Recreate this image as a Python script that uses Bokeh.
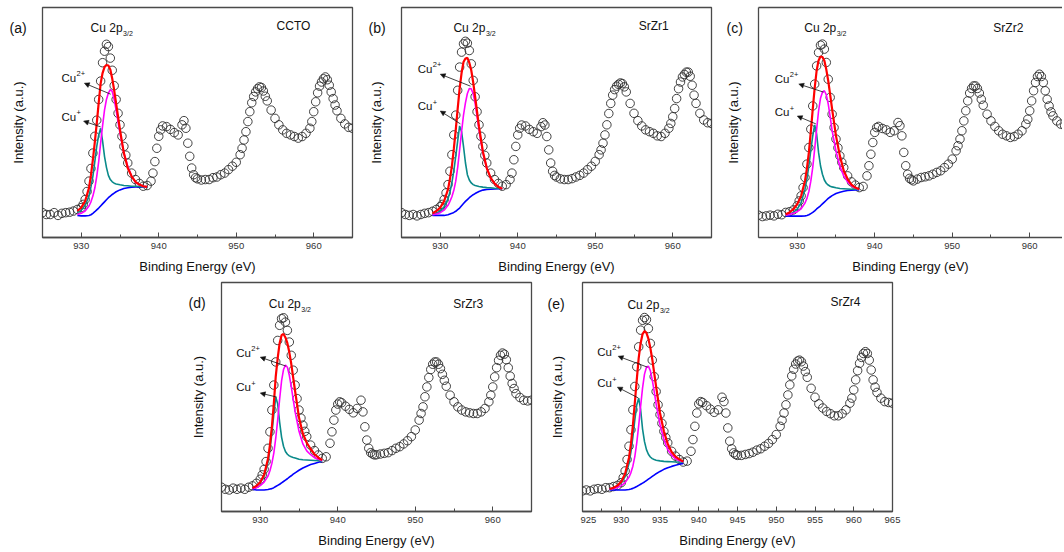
import math
from bokeh.plotting import figure
from bokeh.layouts import column, row
from bokeh.models import (Label, Arrow, NormalHead, SingleIntervalTicker, FixedTicker,
                          Range1d, Spacer, LinearAxis)
from bokeh.embed import file_html
from bokeh.resources import INLINE

FONT = "Liberation Sans"
AXIS = "#4a4a4a"
TXT = "#111111"

# ---------------- data: measured spectra (intensity, % of panel height) ----------------
energy = [
    925, 925.5, 926, 926.5, 927, 927.5, 928, 928.5, 929, 929.5, 930,
    930.25, 930.5, 930.75, 931, 931.25, 931.5, 931.75, 932, 932.25, 932.5,
    932.75, 933, 933.25, 933.5, 933.75, 934, 934.25, 934.5, 934.75, 935,
    935.25, 935.5, 935.75, 936, 936.5, 937, 937.5, 938, 938.5, 939,
    939.25, 939.5, 939.75, 940, 940.25, 940.5,
    941, 941.5, 942, 942.5, 943,
    943.25, 943.5, 943.75, 944, 944.25, 944.5, 944.75, 945,
    945.5, 946, 946.5, 947, 947.5, 948, 948.5, 949, 949.5, 950, 950.5,
    950.75, 951, 951.25, 951.5, 951.75, 952, 952.25, 952.5, 952.75, 953, 953.25, 953.5, 953.75, 954,
    954.5, 955, 955.5, 956, 956.5, 957, 957.5, 958, 958.5, 959, 959.5,
    959.75, 960, 960.25, 960.5, 960.75, 961, 961.25, 961.5, 961.75, 962, 962.25, 962.5, 962.75, 963,
    963.5, 964, 964.5, 965,
]

ccto_counts = [
    10.8, 10, 10, 10.8, 9.6, 10.5, 10.8, 11, 11.5, 12.2, 13,
    14.4, 16.5, 20, 24.5, 30, 36.7, 44, 51, 60, 68, 76, 81, 84, 83, 78, 72.7, 66, 60, 54, 49,
    44, 39.6, 35.8, 32.4, 28, 25.2, 23.5, 22.3, 22.6, 24.5,
    28, 33, 38.8, 44, 46.8, 48.5,
    48.2, 47, 45.6, 44.6, 49,
    50.8, 47.5, 41, 35.3, 30.2, 27.3, 26, 25.5,
    25, 25.2, 25.2, 26, 26.3, 27.3, 28, 29.5, 31, 32.7, 36,
    38.8, 42.4, 46, 50.4, 54.7, 58.6, 61.3, 63.3, 64.7, 65.5, 65.2, 63.7, 61.4, 59.4,
    55.4, 51.8, 49, 46.8, 45.3, 44.6, 43.9, 43.2, 43.9, 45.3, 47.5,
    50.4, 54.7, 59, 62.9, 65.8, 67.6, 69, 69.8, 68.6, 66.2, 63.3, 60.4, 57.6, 55.1,
    51.8, 49.4, 47.9, 47.5,
]
srzr1_counts = [
    10.8, 10, 9.6, 10, 9.4, 10, 10.5, 10.8, 11.4, 12.2, 13.4,
    14.4, 16.5, 19.4, 23, 28.8, 36, 44.6, 53.2, 64, 74.1, 80.6, 84.2, 85.3, 84.5, 81.3, 75.5, 68.3, 61.2, 54.7, 49,
    44, 39.6, 35.7, 32.4, 28, 25.2, 23.5, 22.3, 23, 25.2,
    28, 33.8, 39.6, 44.6, 47.5, 48.9,
    48.5, 47, 46, 45.3, 48.2,
    49.9, 48.9, 43.9, 38.1, 32.4, 28.8, 27, 26.3,
    25.5, 25.2, 25.2, 25.6, 26.3, 27, 28, 29.5, 31, 33.1, 36,
    38.1, 41, 44.6, 49, 53.9, 58.3, 61.9, 64.3, 65.8, 66.6, 67.2, 66.9, 65.5, 63.3,
    58.3, 54, 50.8, 48.5, 46.8, 46, 45.3, 44.2, 43.9, 45.3, 47.5,
    49.6, 52.5, 56.1, 60.4, 64.7, 67.6, 69.8, 70.9, 71.9, 71.9, 70.1, 66.2, 61.9, 58.3,
    54, 51.1, 49.9, 49.6,
]
srzr2_counts = [
    9.7, 9.1, 9.4, 9.7, 9.4, 10.1, 9.9, 10.9, 11.2, 12, 13.8,
    15.9, 18.1, 21.7, 26.1, 31.9, 39.1, 47.1, 57.2, 66.7, 74.6, 80.4, 83.6, 84.1, 81.9, 76.1, 68.8, 60.9, 53.6, 47.8, 42.8,
    39, 35.5, 32.7, 30.4, 26.8, 24.2, 22.8, 21.7, 22.2, 26.8,
    31.2, 36.2, 41.3, 45.7, 47.8, 48.3,
    47.4, 46.8, 45.7, 46.4, 50,
    48.6, 44.2, 37, 31.2, 27.5, 25.7, 25.1, 24.6,
    25.4, 26.1, 26.4, 26.8, 27.5, 28.3, 29, 30.4, 31.9, 34.1, 37.7,
    39.9, 42.8, 46.4, 50.7, 55.1, 59.4, 62.8, 64.8, 65.9, 65.9, 64.8, 62.8, 60.1, 57.5,
    53.6, 50.7, 48.3, 46.4, 44.9, 44.2, 43.5, 43.9, 44.9, 46.4, 49.3,
    51.4, 55.1, 59.4, 63.8, 67.4, 70, 71, 70, 67.4, 63.8, 60.1, 57.2, 54.6, 52.9,
    50.7, 49.3, 48.6, 48.6,
]
srzr3_counts = [
    10.6, 9.7, 9.4, 10.2, 9.7, 10.2, 9.7, 10.6, 11.2, 12.3, 14.1,
    16, 18.4, 21.8, 27.6, 34.8, 44.3, 55.2, 65.3, 74.7, 81.3, 84.2, 84.6, 82.7, 79.1, 74, 68.2, 61.7, 55.2, 49.3, 44.3,
    40.8, 37.7, 35, 32.7, 29, 26.6, 24.7, 23.2, 23.9, 29.8,
    34.8, 39.9, 44.3, 46.9, 47.9, 47.5,
    46, 44.6, 43.1, 45, 48.6,
    43.5, 37, 31.2, 27.6, 25.7, 25.1, 24.7, 24.8,
    25.1, 25.4, 25.7, 26.6, 27.6, 28.3, 29.5, 30.9, 32.7, 35.6, 39.9,
    42.8, 45.7, 50.1, 54.4, 58.5, 62, 64.3, 65.3, 65.3, 64.3, 62.4, 59.9, 57.3, 54.7,
    50.8, 47.9, 45.7, 44.3, 43.5, 43.1, 42.8, 42.8, 43.5, 45, 47.9,
    50.8, 54.4, 58.8, 62.8, 66, 68.2, 69.2, 68.7, 66.3, 62.8, 59.1, 55.9, 53.7, 51.5,
    49.8, 48.6, 48.3, 48.6,
]
srzr4_counts = [
    9, 9.4, 9, 9.7, 10, 9.7, 10.4, 10.4, 10.9, 11.4, 12.6,
    14.8, 17.7, 22.7, 28.5, 35.7, 44.4, 54.6, 63.2, 71.9, 79.2, 83.5, 84.7, 83.8, 79.9, 73.4, 66.1, 58.9, 52.4, 46.6, 42.3,
    38.5, 35, 32.3, 30, 26.3, 24.2, 22.7, 21.6, 22, 26.3,
    31.4, 37.2, 43, 47, 48, 47.6,
    46.2, 44.7, 43.3, 44.4, 49.9,
    48, 43, 36.5, 30.7, 27.4, 25.6, 24.9, 24.5,
    24.5, 24.9, 25.3, 25.9, 26.8, 27.4, 28.5, 29.7, 31.4, 33.6, 37.2,
    39.8, 43, 46.6, 50.9, 55.3, 59.2, 62.1, 64.4, 65.7, 66.1, 65.4, 63.5, 61.1, 58.6,
    53.8, 49.9, 47, 45.2, 43.7, 42.7, 41.8, 41.8, 42.7, 44.4, 47.3,
    49.5, 53.1, 57.5, 61.5, 64.7, 67.3, 69, 69.8, 69, 66.1, 61.8, 57.5, 54.3, 52,
    49.5, 48, 47.6, 47.3,
]

# ---------------- data: Cu 2p3/2 fit curves ----------------
fit_energy = [928.5, 929, 929.5, 930, 930.5, 931,
              931.25, 931.5, 931.75, 932, 932.25, 932.5, 932.75, 933, 933.25, 933.5, 933.75, 934, 934.25, 934.5,
              935, 935.5, 936, 936.5, 937, 937.5, 938, 938.5]

ccto_envelope = [None, None, 11.5, 13, 15.8, 21.6,
                 27, 33.8, 41.5, 49.6, 58.5, 66.9, 71.5, 74.1, 75, 74.8, 73, 69, 64, 58.3,
                 46.8, 36.7, 30.2, 26.6, 24.2, 23, 22.3, 22]
ccto_cu1 = [None, None, 10.8, 11.8, 14, 18,
            22, 26.6, 33, 39.6, 44.5, 47.5, 42, 35.3, 30.5, 27, 25.2, 24.2, 23.6, 23.3,
            22.9, 22.6, 22.5, 22.3, 22.3, 22.2, 22.1, 22]
ccto_cu2 = [None, None, 10, 10.5, 11.5, 13.7,
            15.5, 18, 21.5, 26.6, 33, 41, 48.5, 55.4, 60, 62.8, 64.3, 63.5, 60, 55.4,
            45.3, 36.7, 31, 26.6, 24, 22.9, 22.3, 22]
ccto_bg = [None, None, 9.6, 9.4, 9.4, 9.6,
           9.9, 10.5, 11.2, 12, 12.8, 13.7, 14.6, 15.5, 16.4, 17.3, 18, 18.7, 19.3, 19.9,
           20.7, 21.3, 21.6, 21.9, 22, 22, 22, 22]

srzr1_envelope = [None, 10.5, 11.5, 13, 15.8, 20.9,
                  25.5, 30.9, 38.5, 46.8, 56, 64.7, 71.5, 76.3, 77.8, 78.1, 76, 72.7, 67.5, 61.2,
                  48.2, 37.4, 30.2, 25.9, 23.5, 22, 21.2, None]
srzr1_cu1 = [None, 10, 10.5, 11.5, 13.4, 16.8,
             19.8, 23.7, 29, 35.3, 42, 48.5, 46, 39.6, 32.5, 27.3, 25, 23.7, 23, 22.6,
             22.2, 21.9, 21.7, 21.6, 21.4, 21.3, 21.2, None]
srzr1_cu2 = [None, 9.9, 10.2, 10.8, 11.9, 14,
             15.7, 17.7, 20.5, 24.5, 30.5, 38.1, 46, 53.2, 58.5, 62.6, 64.8, 64.7, 62.5, 58.3,
             46.8, 36.7, 30.2, 25.9, 23.5, 22, 21.2, None]
srzr1_bg = [None, 9.6, 9.6, 9.6, 9.6, 9.9,
            10.2, 10.5, 10.9, 11.4, 12.1, 12.8, 13.8, 14.8, 15.7, 16.5, 17.3, 18, 18.6, 19.1,
            20, 20.6, 20.9, 21, 21.1, 21.2, 21.2, None]

srzr2_envelope = [10.1, 10.9, 12.3, 14.5, 18.1, 24.6,
                  30, 37, 46, 55.8, 65, 72.5, 77, 78.7, 78.5, 76.8, 73, 68.1, 62, 55.8,
                  44.2, 35.5, 29, 25.4, 23, 21.7, 21, None]
srzr2_cu1 = [9.7, 10.1, 10.9, 12.3, 15.2, 21,
             25.5, 31.2, 38, 44.2, 49, 45, 37, 31.2, 27.5, 25, 23.6, 22.8, 22.3, 22,
             21.6, 21.3, 21.2, 21.1, 21, 21, 20.9, None]
srzr2_cu2 = [9.7, 10, 10.5, 11.2, 12.5, 15,
             17, 20, 24.5, 30.5, 38.5, 47, 55, 60.5, 63.2, 63.8, 62, 58, 52.5, 46.5,
             37.5, 31, 26.8, 24.2, 22.5, 21.5, 21, None]
srzr2_bg = [9.4, 9.3, 9.3, 9.3, 9.3, 9.4,
            9.6, 9.9, 10.4, 10.9, 11.6, 12.4, 13.1, 13.8, 14.6, 15.4, 16.2, 17, 17.6, 18.2,
            19.1, 19.7, 20.1, 20.4, 20.6, 20.7, 20.7, None]

srzr3_envelope = [None, 10.2, 11.2, 12.8, 16, 23,
                  29, 37, 47, 59, 67, 73.5, 77, 77.5, 76, 73.5, 69.5, 64.5, 58.5, 52.5,
                  41, 34, 30, 27.3, 25, 23.5, 22.5, None]
srzr3_cu1 = [None, 10.2, 11, 12.5, 15.5, 21.5,
             27, 34, 42.5, 50, 47, 39, 32.5, 28.5, 26.2, 25, 24.3, 23.9, 23.6, 23.4,
             22.8, 22.6, 22.5, 22.4, 22.3, 22.2, 22, None]
srzr3_cu2 = [None, 9.9, 10.4, 11.3, 12.8, 15.5,
             17.8, 21, 25.5, 32, 40, 49, 57, 62, 63.9, 63, 59.5, 54.5, 49, 43.5,
             35, 29.5, 26.5, 24.8, 23.5, 22.8, 22.2, None]
srzr3_bg = [None, 9.7, 9.4, 9.4, 9.4, 9.6,
            9.8, 10, 10.4, 10.9, 11.4, 11.9, 12.5, 13.1, 13.7, 14.3, 15, 15.6, 16.3, 16.9,
            18, 19, 19.8, 20.5, 21, 21.5, 21.8, None]

srzr4_envelope = [9.8, 10.4, 11.3, 13, 16.5, 23.5,
                  29.5, 37.5, 47.5, 57.5, 67, 73.5, 77.5, 78.8, 78, 75.5, 71.5, 66.5, 60.5, 54.5,
                  43, 35, 29.5, 26, 24, 22.8, 21.8, None]
srzr4_cu1 = [9.8, 10.2, 11, 12.5, 15.3, 21,
             26, 32.5, 40, 46.5, 49.5, 44.5, 36, 30.5, 27, 25, 23.8, 23.1, 22.7, 22.4,
             22.1, 21.9, 21.8, 21.7, 21.6, 21.6, 21.5, None]
srzr4_cu2 = [9.8, 10, 10.5, 11.3, 12.6, 15,
             17, 19.8, 24, 30, 37.5, 46, 54, 60, 63, 63.5, 61.5, 57.5, 52.5, 47,
             38, 31.5, 27, 24.5, 23, 22.2, 21.7, None]
srzr4_bg = [9.4, 9.4, 9.4, 9.4, 9.4, 9.6,
            9.8, 10.1, 10.5, 10.9, 11.4, 11.9, 12.4, 12.9, 13.5, 14.1, 14.7, 15.3, 15.9, 16.5,
            17.5, 18.4, 19.1, 19.7, 20.2, 20.6, 21, None]

panel_tags = ["(a)", "(b)", "(c)", "(d)", "(e)"]
sample_names = ["CCTO", "SrZr1", "SrZr2", "SrZr3", "SrZr4"]

for arr in (ccto_counts, srzr1_counts, srzr2_counts, srzr3_counts, srzr4_counts):
    assert len(arr) == len(energy), (len(arr), len(energy))
for arr in (ccto_envelope, ccto_cu1, ccto_cu2, ccto_bg, srzr1_envelope, srzr1_cu1, srzr1_cu2, srzr1_bg,
            srzr2_envelope, srzr2_cu1, srzr2_cu2, srzr2_bg, srzr3_envelope, srzr3_cu1, srzr3_cu2, srzr3_bg,
            srzr4_envelope, srzr4_cu1, srzr4_cu2, srzr4_bg):
    assert len(arr) == len(fit_energy), (len(arr), len(fit_energy))

# ---------------- annotation placement (data coordinates of each panel) ----------------
layout_a = dict(title=(931.2, 90.9), name=(955.2, 91.8),
                cu2=(927.45, 69.3), cu2_arrow=(933.8, 62.3, 930.4, 67.1),
                cu1=(927.45, 52.4), cu1_arrow=(932.5, 48.1, 930.3, 50.6))
layout_b = dict(title=(931.7, 90.9), name=(955.6, 91.8),
                cu2=(927.1, 73.2), cu2_arrow=(933.9, 65.8, 930.0, 71.0),
                cu1=(927.1, 57.1), cu1_arrow=(932.6, 49.4, 930.0, 55.0))
layout_c = dict(title=(930.9, 90.9), name=(955.3, 90.9),
                cu2=(927.1, 68.8), cu2_arrow=(933.4, 63.2, 930.2, 66.7),
                cu1=(927.1, 54.5), cu1_arrow=(932.4, 49.4, 930.0, 52.8))
layout_d = dict(title=(931.1, 90.4), name=(954.9, 90.4),
                cu2=(926.9, 69.1), cu2_arrow=(933.3, 63.5, 930.0, 67.4),
                cu1=(926.9, 54.3), cu1_arrow=(932.1, 50.0, 930.0, 51.7))
layout_e = dict(title=(930.8, 90.0), name=(957.0, 91.7),
                cu2=(926.9, 69.6), cu2_arrow=(933.4, 63.0, 929.6, 67.8),
                cu1=(926.9, 56.0), cu1_arrow=(932.2, 49.6, 929.5, 54.3))

# row geometry (px)
T1, F1, B1 = 7, 232, 37      # row 1: top border, frame height, bottom border
T2, F2, B2 = 6, 230, 38      # row 2
H1, H2 = T1 + F1 + B1, T2 + F2 + B2


def label(p, x, y, text, size, dx=0, dy=0, align="left", angle=0.0):
    p.add_layout(Label(x=x, y=y, text=text, x_offset=dx, y_offset=dy, angle=angle,
                       text_font=FONT, text_font_size=size, text_color=TXT,
                       text_align=align, text_baseline="middle"))


def arrow(p, a):
    p.add_layout(Arrow(end=NormalHead(size=5, fill_color="#111111", line_color="#111111", line_width=0.5),
                       x_start=a[0], y_start=a[1], x_end=a[2], y_end=a[3],
                       line_color="#111111", line_width=0.8))


def strip(width, height, bt, bb, fh, tag, tag_x, tag_y, ylab_x):
    """Left margin strip holding the panel tag and the y-axis title."""
    s = figure(width=width, height=height, output_backend="svg", toolbar_location=None,
               x_range=Range1d(0, width), y_range=Range1d(0, fh),
               min_border_left=0, min_border_right=0, min_border_top=bt, min_border_bottom=bb,
               x_axis_location=None, y_axis_location=None,
               background_fill_color="white", border_fill_color="white")
    s.outline_line_color = None
    s.grid.visible = False
    label(s, tag_x, tag_y, tag, "14px")
    label(s, ylab_x, fh / 2, "Intensity (a.u.)", "13px", align="center", angle=math.pi / 2)
    return s


def panel(name, counts, env, cu1, cu2, bg, lay, width, br, bt, bb, height,
          x_end=965, interval=10, cut_right=False):
    p = figure(width=width, height=height, output_backend="svg", toolbar_location=None,
               x_range=Range1d(925, x_end), y_range=Range1d(0, 100),
               min_border_left=2, min_border_right=br, min_border_top=bt, min_border_bottom=bb,
               background_fill_color="white", border_fill_color="white")
    p.grid.visible = False

    xa = p.below[0]
    xa.ticker = SingleIntervalTicker(interval=interval, num_minor_ticks=2)
    xa.axis_label = "Binding Energy (eV)"
    xa.axis_label_text_font = FONT
    xa.axis_label_text_font_size = "13px"
    xa.axis_label_text_font_style = "normal"
    xa.axis_label_text_color = TXT
    xa.axis_label_standoff = 7
    xa.major_label_text_font = FONT
    xa.major_label_text_font_size = "9.5px"
    xa.major_label_text_color = "#333333"
    xa.major_label_standoff = 5
    xa.major_tick_in = 5
    xa.major_tick_out = 0
    xa.minor_tick_in = 3
    xa.minor_tick_out = 0
    xa.axis_line_color = AXIS
    xa.axis_line_width = 1.3
    xa.major_tick_line_color = AXIS
    xa.minor_tick_line_color = AXIS

    ya = p.left[0]
    if cut_right:
        # right side of this panel runs off the page: draw left/bottom/top edges only
        p.outline_line_color = None
        ya.ticker = FixedTicker(ticks=[])
        ya.major_label_text_font_size = "0px"
        ya.major_label_standoff = 0
        ya.major_tick_in = 0
        ya.major_tick_out = 0
        ya.minor_tick_in = 0
        ya.minor_tick_out = 0
        ya.axis_line_color = AXIS
        ya.axis_line_width = 1.3
        top = LinearAxis(ticker=FixedTicker(ticks=[]), axis_line_color=AXIS, axis_line_width=1.3,
                         major_tick_in=0, major_tick_out=0, minor_tick_in=0, minor_tick_out=0,
                         major_label_standoff=0, major_label_text_font_size="0px")
        p.add_layout(top, "above")
    else:
        ya.visible = False
        p.outline_line_color = AXIS
        p.outline_line_width = 1.3
        p.outline_line_alpha = 1.0

    p.scatter(energy, counts, marker="circle", size=8.5, fill_color=None,
              line_color="#2e2e2e", line_width=0.9)

    for ys, col, w in ((bg, "#0000ff", 1.6), (cu1, "#0a8a8a", 1.6), (cu2, "#ff00ff", 1.6), (env, "#ff0000", 2.2)):
        xs = [x for x, y in zip(fit_energy, ys) if y is not None]
        yv = [y for y in ys if y is not None]
        p.line(xs, yv, line_color=col, line_width=w)

    label(p, lay["title"][0], lay["title"][1], "Cu 2p", "12px")
    label(p, lay["title"][0], lay["title"][1], "3/2", "7px", dx=32.5, dy=-5)
    label(p, lay["name"][0], lay["name"][1], name, "12px")
    label(p, lay["cu2"][0], lay["cu2"][1], "Cu", "11.5px")
    label(p, lay["cu2"][0], lay["cu2"][1], "2+", "7.5px", dx=15, dy=5)
    label(p, lay["cu1"][0], lay["cu1"][1], "Cu", "11.5px")
    label(p, lay["cu1"][0], lay["cu1"][1], "+", "7.5px", dx=15, dy=4)
    arrow(p, lay["cu2_arrow"])
    arrow(p, lay["cu1_arrow"])
    return p


sa = strip(40, H1, T1, B1, F1, panel_tags[0], 9, 211, 17.5)
fa = panel(sample_names[0], ccto_counts, ccto_envelope, ccto_cu1, ccto_cu2, ccto_bg, layout_a,
           322, 10, T1, B1, H1)
sb = strip(37, H1, T1, B1, F1, panel_tags[1], 6, 211, 14)
fb = panel(sample_names[1], srzr1_counts, srzr1_envelope, srzr1_cu1, srzr1_cu2, srzr1_bg, layout_b,
           321, 9, T1, B1, H1)
sc = strip(36, H1, T1, B1, F1, panel_tags[2], 6, 211, 13)
fc = panel(sample_names[2], srzr2_counts, srzr2_envelope, srzr2_cu1, srzr2_cu2, srzr2_bg, layout_c,
           306, 0, T1, B1, H1, x_end=964.23, cut_right=True)

sd = strip(39, H2, T2, B2, F2, panel_tags[3], 8, 209, 17.5)
fd = panel(sample_names[3], srzr3_counts, srzr3_envelope, srzr3_cu1, srzr3_cu2, srzr3_bg, layout_d,
           322, 10, T2, B2, H2)
se = strip(39, H2, T2, B2, F2, panel_tags[4], 6, 208, 15.5)
fe = panel(sample_names[4], srzr4_counts, srzr4_envelope, srzr4_cu1, srzr4_cu2, srzr4_bg, layout_e,
           322, 10, T2, B2, H2, interval=5)

p = column(row(sa, fa, sb, fb, sc, fc),
           row(Spacer(width=180, height=H2), sd, fd, se, fe))

open("out.html", "w").write(file_html(p, INLINE))
